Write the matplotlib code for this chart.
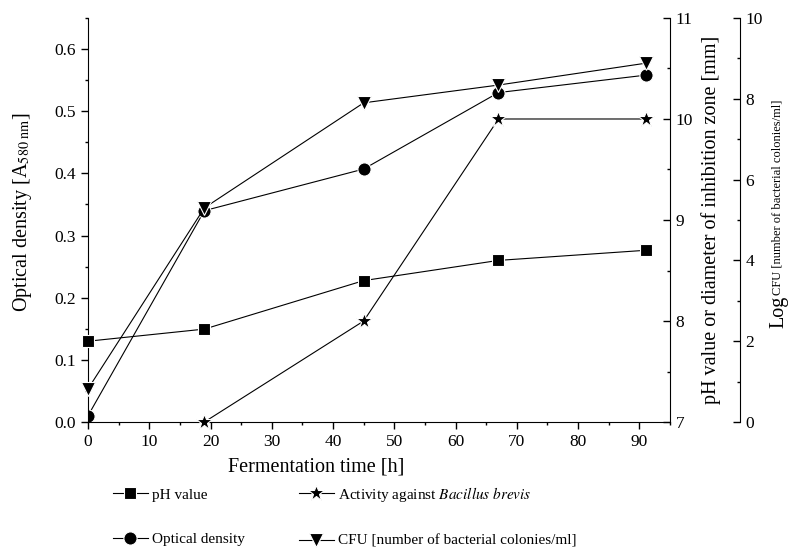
import matplotlib
matplotlib.use("Agg")
import matplotlib.pyplot as plt
from matplotlib.ticker import MultipleLocator

plt.rcParams['font.family'] = ['Liberation Serif', 'DejaVu Serif']
plt.rcParams['mathtext.fontset'] = 'stix'

# fermentation time [h]
time_h = [0, 19, 45, 67, 91]
optical_density = [0.01, 0.34, 0.407, 0.53, 0.558]
ph_value = [7.80, 7.92, 8.40, 8.60, 8.70]
activity_time = [19, 45, 67, 91]
activity_mm = [7.0, 8.0, 10.0, 10.0]
log_cfu = [0.82, 5.3, 7.9, 8.34, 8.88]

fig = plt.figure(figsize=(7.89, 5.5), dpi=100)
ax = fig.add_axes([0.1115, 0.2327, 0.7377, 0.7346])
ax_ph = ax.twinx()
ax_cfu = ax.twinx()
ax_cfu.spines['right'].set_position(('axes', 1.12))

style = dict(color='black', lw=0.8, markeredgecolor='white', markeredgewidth=0.8)

l_od, = ax.plot(time_h, optical_density, marker='o', markersize=9.5,
                markerfacecolor='black', label='Optical density', **style)
l_ph, = ax_ph.plot(time_h, ph_value, marker='s', markersize=8.5,
                   markerfacecolor='black', label='pH value', clip_on=False, **style)
l_act, = ax_ph.plot(activity_time, activity_mm, marker='*', markersize=12,
                    markerfacecolor='black', label=r'Activity against $\it{Bacillus\ brevis}$',
                    clip_on=False, **style)
l_cfu, = ax_cfu.plot(time_h, log_cfu, marker='v', markersize=10,
                     markerfacecolor='black', label='CFU [number of bacterial colonies/ml]',
                     clip_on=False, **style)

ax.set_xlim(0, 95)
ax.set_ylim(0, 0.65)
ax_ph.set_ylim(7, 11)
ax_cfu.set_ylim(0, 10)

ax.xaxis.set_major_locator(MultipleLocator(10))
ax.xaxis.set_minor_locator(MultipleLocator(5))
ax.yaxis.set_major_locator(MultipleLocator(0.1))
ax.yaxis.set_minor_locator(MultipleLocator(0.05))
ax_ph.yaxis.set_major_locator(MultipleLocator(1))
ax_ph.yaxis.set_minor_locator(MultipleLocator(0.5))
ax_cfu.yaxis.set_major_locator(MultipleLocator(2))
ax_cfu.yaxis.set_minor_locator(MultipleLocator(1))
ax.yaxis.set_major_formatter(plt.FuncFormatter(lambda v, p: f"{v:.1f}"))

for a in (ax, ax_ph, ax_cfu):
    a.spines['top'].set_visible(False)
ax.spines['right'].set_visible(False)
ax_ph.spines['left'].set_visible(False)
ax_ph.spines['bottom'].set_visible(False)
ax_cfu.spines['left'].set_visible(False)
ax_cfu.spines['bottom'].set_visible(False)

ax.tick_params(axis='both', which='major', direction='out', length=5, width=1, labelsize=12.5)
ax.tick_params(axis='both', which='minor', direction='out', length=2.5, width=1)
for a in (ax_ph, ax_cfu):
    a.tick_params(axis='y', which='major', direction='in', length=5, width=1, labelsize=12.5, pad=4)
    a.tick_params(axis='y', which='minor', direction='in', length=2.5, width=1)

ax.set_xlabel('Fermentation time [h]', fontsize=14.5)
ax.xaxis.set_label_coords(0.392, -0.088)
ax.set_ylabel(r'Optical density [A$_{\mathrm{580\ nm}}$]', fontsize=14.5)
ax.yaxis.set_label_coords(-0.093, 0.52)
ax_ph.set_ylabel('pH value or diameter of inhibition zone [mm]', fontsize=14.5, labelpad=6)

# third axis label: "Log" with a small superscript
fig.text(779 / 789, (550 - 328) / 550, 'Log', rotation=90, fontsize=14.5,
         ha='center', va='bottom')
fig.text(778 / 789, (550 - 295) / 550, 'CFU [number of bacterial colonies/ml]',
         rotation=90, fontsize=9, ha='center', va='bottom')

fig.legend(handles=[l_ph, l_od, l_act, l_cfu], ncol=2, loc='upper left',
           bbox_to_anchor=(0.135, 0.13), frameon=False, fontsize=11,
           handlelength=2.3, labelspacing=2.0, columnspacing=3.5, handletextpad=0.3,
           borderaxespad=0)

fig.savefig('out.png', dpi=100)
